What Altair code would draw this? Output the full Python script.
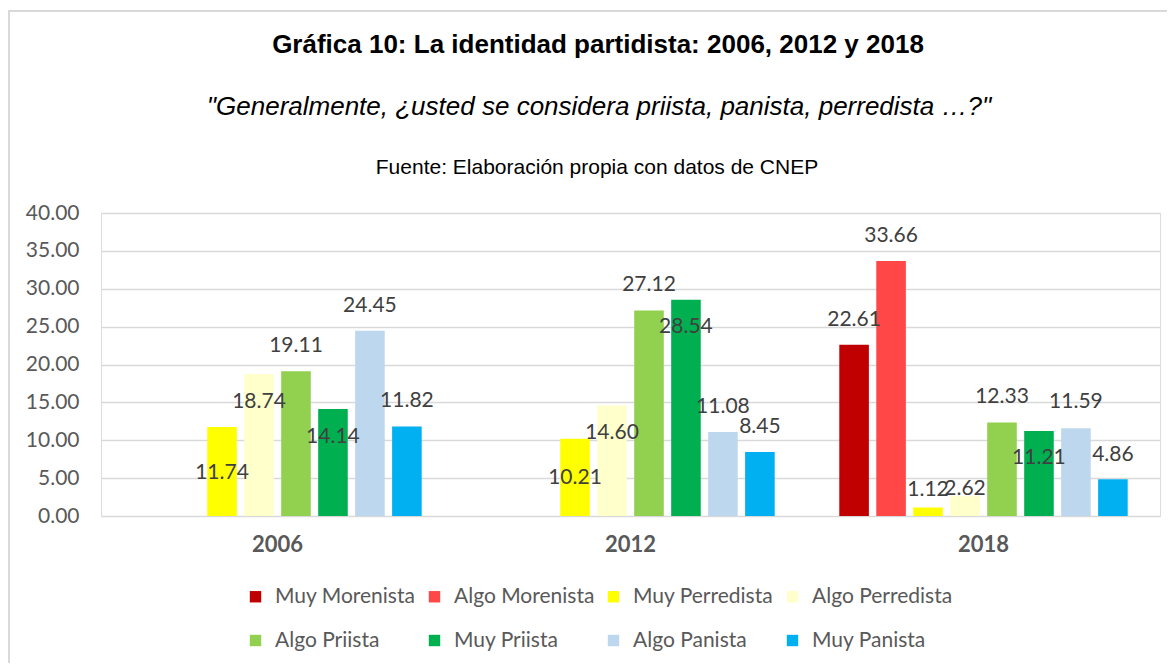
import altair as alt
import pandas as pd

# ---------------- data ----------------
years = ["2006", "2012", "2018"]
series = ["Muy Morenista", "Algo Morenista", "Muy Perredista", "Algo Perredista",
          "Algo Priista", "Muy Priista", "Algo Panista", "Muy Panista"]
colors = ["#C00000", "#FF4747", "#FFFF00", "#FFFFCC",
          "#92D050", "#00B050", "#BDD7EE", "#00B0F0"]

muy_morenista = [None, None, 22.61]
algo_morenista = [None, None, 33.66]
muy_perredista = [11.74, 10.21, 1.12]
algo_perredista = [18.74, 14.60, 2.62]
algo_priista = [19.11, 27.12, 12.33]
muy_priista = [14.14, 28.54, 11.21]
algo_panista = [24.45, 11.08, 11.59]
muy_panista = [11.82, 8.45, 4.86]

values = [muy_morenista, algo_morenista, muy_perredista, algo_perredista,
          algo_priista, muy_priista, algo_panista, muy_panista]

y_ticks = [0, 5, 10, 15, 20, 25, 30, 35, 40]

# label placement (pixels from bar top, + = above) -- styling only
label_dy = [[0, 0, 25], [0, 0, 25], [-46, -39, 18], [-28, -28, 7],
            [25, 26, 26], [-28, -27, -27], [25, 25, 26], [25, 25, 24]]

title_txt = "Gráfica 10: La identidad partidista: 2006, 2012 y 2018"
subtitle_txt = "\"Generalmente, ¿usted se considera priista, panista, perredista …?\""
source_txt = "Fuente: Elaboración propia con datos de CNEP"

rows = []
for s, vals, dys in zip(series, values, label_dy):
    for y, v, d in zip(years, vals, dys):
        rows.append({"year": y, "series": s, "value": v, "dy": d})
df = pd.DataFrame(rows)

W, H = 1059, 303
YMAX = 40
FONT = "Lato"
TFONT = "Liberation Sans"

base = alt.Chart(df).transform_filter("isValid(datum.value)")

x_axis = alt.Axis(labelAngle=0, domain=False, ticks=False,
                  labelFont=FONT, labelFontSize=22, labelFontWeight="bold",
                  labelColor="#595959", labelPadding=18)
x_scale = alt.Scale(paddingInner=0.183, paddingOuter=0.0915)
xoff = alt.XOffset("series:N", sort=series,
                   scale=alt.Scale(paddingInner=0.2, paddingOuter=0))
y_axis = alt.Axis(values=y_ticks, format=".2f", labelOverlap=False,
                  domain=False, ticks=False, labelFont=FONT, labelFontSize=21,
                  labelColor="#595959", labelPadding=22,
                  gridColor="#D9D9D9", gridWidth=1.6)
y_scale = alt.Scale(domain=[0, YMAX], nice=False)

bars = base.mark_bar().encode(
    x=alt.X("year:N", sort=years, title=None, scale=x_scale, axis=x_axis),
    xOffset=xoff,
    y=alt.Y("value:Q", title=None, scale=y_scale, axis=y_axis),
    color=alt.Color("series:N", sort=series,
                    scale=alt.Scale(domain=series, range=colors),
                    legend=alt.Legend(title=None, orient="none", legendX=144, legendY=373,
                                      columns=4, direction="horizontal", gridAlign="all",
                                      symbolType="square", symbolSize=130,
                                      symbolStrokeWidth=0, labelFont=FONT,
                                      labelFontSize=21, labelColor="#595959",
                                      labelOffset=9, columnPadding=8, rowPadding=22,
                                      padding=0, labelLimit=300)),
)

labels = base.transform_calculate(
    ly=f"datum.value + datum.dy * {YMAX} / {H}"
).mark_text(font=FONT, fontSize=21, color="#404040", baseline="middle").encode(
    x=alt.X("year:N", sort=years, title=None, scale=x_scale, axis=x_axis),
    xOffset=xoff,
    y=alt.Y("ly:Q", title=None, scale=y_scale, axis=y_axis),
    text=alt.Text("value:Q", format=".2f"),
)

one = pd.DataFrame({"t": [title_txt], "s": [subtitle_txt], "f": [source_txt]})
title = alt.Chart(one).mark_text(font=TFONT, fontSize=26, fontWeight="bold",
                                 color="#000000", baseline="middle").encode(
    text="t:N", x=alt.value(497), y=alt.value(-168))
subtitle = alt.Chart(one).mark_text(font=TFONT, fontSize=26, fontStyle="italic",
                                    color="#000000", baseline="middle").encode(
    text="s:N", x=alt.value(498), y=alt.value(-106))
source = alt.Chart(one).mark_text(font=TFONT, fontSize=21, color="#000000",
                                  baseline="middle").encode(
    text="f:N", x=alt.value(496), y=alt.value(-45))
border = alt.Chart(one).mark_rect(fillOpacity=0, stroke="#D9D9D9", strokeWidth=2).encode(
    x=alt.value(-92), x2=alt.value(1300), y=alt.value(-202), y2=alt.value(700))

chart = alt.layer(border, bars, labels, title, subtitle, source).properties(
    width=W, height=H,
    autosize=alt.AutoSizeParams(type="none"),
    padding={"left": 93, "top": 205, "right": 7, "bottom": 147},
).configure_view(stroke=None).configure(background="white")

chart.save("out.html", embed_options={"renderer": "svg", "actions": False})
